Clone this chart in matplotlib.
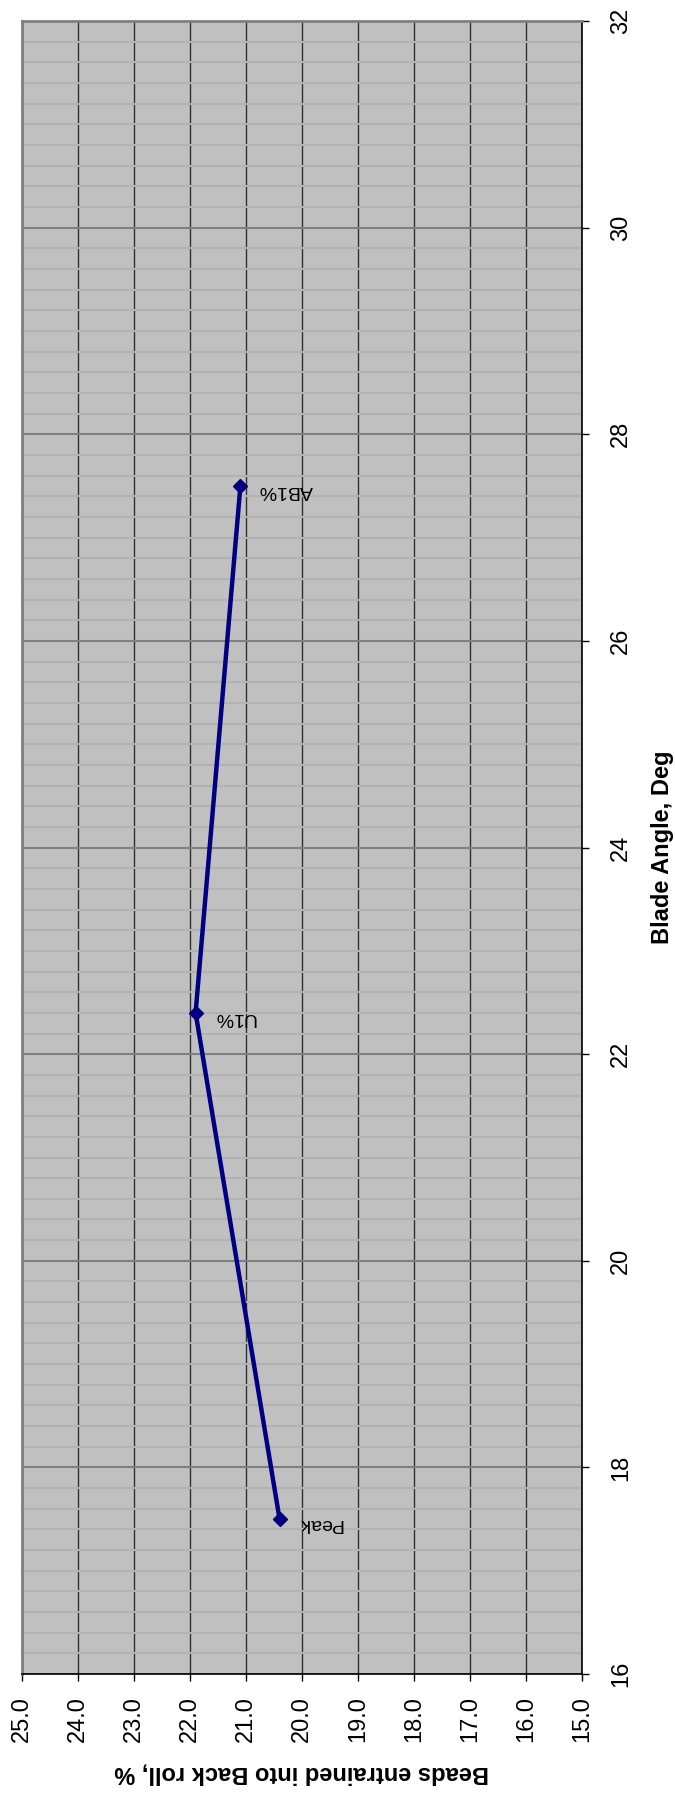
import matplotlib
matplotlib.use("Agg")
import matplotlib.pyplot as plt
from matplotlib.ticker import MultipleLocator

plt.rcParams["font.family"] = ["Liberation Sans", "DejaVu Sans"]

# data
blade_angle = [17.5, 22.4, 27.5]
beads_pct = [20.4, 21.9, 21.1]
point_labels = ["Peak", "U1%", "AB1%"]

fig = plt.figure(figsize=(6.75, 17.97), dpi=100)
ax = fig.add_axes([0.0326, 0.0684, 0.8296, 0.9199])
ax.set_facecolor("#c0c0c0")

ax.plot(beads_pct, blade_angle, color="#000080", lw=3.2, marker="D", ms=7, zorder=3)
for x, y, lab in zip(beads_pct, blade_angle, point_labels):
    ax.annotate(lab, (x, y), xytext=(13, -3), textcoords="offset points",
                rotation=180, ha="left", va="center", fontsize=14, color="black")

ax.set_xlim(25, 15)
ax.set_ylim(16, 32)
ax.xaxis.set_major_locator(MultipleLocator(1))
ax.yaxis.set_major_locator(MultipleLocator(2))
ax.yaxis.set_minor_locator(MultipleLocator(0.2))
ax.xaxis.set_major_formatter(plt.FormatStrFormatter("%.1f"))

ax.grid(which="major", axis="x", color="#303030", lw=1.0)
ax.grid(which="major", axis="y", color="#808080", lw=1.5)
ax.grid(which="minor", axis="y", color="#b2b2b2", lw=1.5)
ax.set_axisbelow(True)

ax.yaxis.tick_right()
ax.yaxis.set_label_position("right")
ax.tick_params(axis="both", which="major", direction="out", length=5, width=1, labelsize=17)
ax.tick_params(axis="y", which="minor", length=0)
ax.tick_params(axis="x", pad=11)
ax.tick_params(axis="y", pad=15)
plt.setp(ax.get_xticklabels(), rotation=90, va="top", ha="center")
plt.setp(ax.get_yticklabels(), rotation=90, va="center", ha="left")

for side in ("top", "left"):
    ax.spines[side].set_color("#808080")
    ax.spines[side].set_linewidth(2)
for side in ("right", "bottom"):
    ax.spines[side].set_color("black")
    ax.spines[side].set_linewidth(1.2)

ax.set_xlabel("Beads entrained into Back roll, %", fontsize=17, fontweight="bold",
              rotation=180, labelpad=14)
ax.set_ylabel("Blade Angle, Deg", fontsize=17, fontweight="bold", rotation=90, labelpad=14)

fig.savefig("out.png", dpi=100)
